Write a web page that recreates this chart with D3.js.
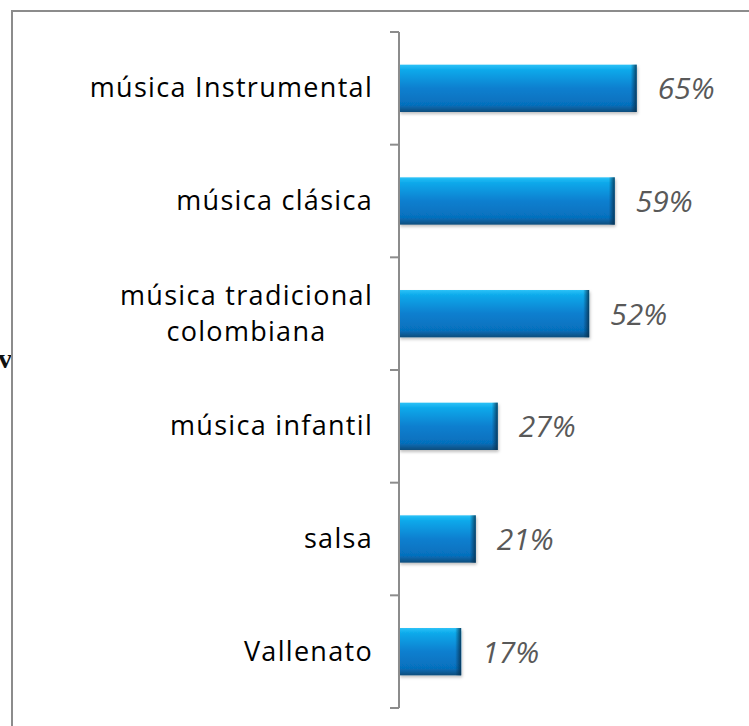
<!DOCTYPE html>
<html>
<head>
<meta charset="utf-8">
<script src="https://cdn.jsdelivr.net/npm/d3@7"></script>
<style>
  html, body { margin: 0; padding: 0; background: #fff; }
  svg { display: block; }
</style>
</head>
<body>
<svg id="chart"></svg>
<script>
// data
const categories = [
  ["música Instrumental"],
  ["música clásica"],
  ["música tradicional", "colombiana"],
  ["música infantil"],
  ["salsa"],
  ["Vallenato"]
];
const values = [0.65, 0.59, 0.52, 0.27, 0.21, 0.17];

const width = 749, height = 726;
const axisX = 399, plotTop = 32, plotBottom = 708;

const svg = d3.select("#chart")
  .attr("width", width)
  .attr("height", height);

const defs = svg.append("defs");
const grad = defs.append("linearGradient")
  .attr("id", "barGrad").attr("x1", 0).attr("y1", 0).attr("x2", 0).attr("y2", 1);
grad.append("stop").attr("offset", "0%").attr("stop-color", "#2cc2f7");
grad.append("stop").attr("offset", "12%").attr("stop-color", "#0aa8ea");
grad.append("stop").attr("offset", "50%").attr("stop-color", "#0a7fcf");
grad.append("stop").attr("offset", "85%").attr("stop-color", "#0670bd");
grad.append("stop").attr("offset", "100%").attr("stop-color", "#0b4d7c");

const edge = defs.append("linearGradient")
  .attr("id", "edgeGrad").attr("x1", 0).attr("y1", 0).attr("x2", 1).attr("y2", 0);
edge.append("stop").attr("offset", "0%").attr("stop-color", "#06304f").attr("stop-opacity", 0);
edge.append("stop").attr("offset", "100%").attr("stop-color", "#06304f").attr("stop-opacity", 0.85);

const shadow = defs.append("filter").attr("id", "shadow")
  .attr("x", "-5%").attr("y", "-10%").attr("width", "115%").attr("height", "140%");
shadow.append("feDropShadow").attr("dx", 1).attr("dy", 2).attr("stdDeviation", 1.5)
  .attr("flood-color", "#000").attr("flood-opacity", 0.25);

// scales
const y = d3.scaleBand()
  .domain(d3.range(categories.length))
  .range([plotTop, plotBottom])
  .paddingInner(0.58)
  .paddingOuter(0.29);

const yTicks = d3.scaleLinear().domain([0, categories.length]).range([plotTop, plotBottom]);

const x = d3.scaleLinear().domain([0, 0.7]).range([axisX, axisX + 256]);

// stray clipped title glyph at left edge
svg.append("text")
  .attr("x", 12).attr("y", 368)
  .attr("text-anchor", "end")
  .attr("font-family", "Liberation Serif")
  .attr("font-weight", "bold")
  .attr("font-size", 28)
  .attr("fill", "#111")
  .text("v");

// chart border (left + top)
svg.append("path")
  .attr("d", `M12,${height} V11 H${width}`)
  .attr("fill", "none")
  .attr("stroke", "#8c8c8c")
  .attr("stroke-width", 2);

// bars
const bars = svg.append("g");
bars.selectAll("rect.bar")
  .data(values)
  .join("rect")
  .attr("class", "bar")
  .attr("x", x(0))
  .attr("y", (d, i) => y(i))
  .attr("width", d => x(d) - x(0))
  .attr("height", y.bandwidth())
  .attr("fill", "url(#barGrad)")
  .attr("filter", "url(#shadow)");

bars.selectAll("rect.edge")
  .data(values)
  .join("rect")
  .attr("class", "edge")
  .attr("x", d => x(d) - 6)
  .attr("y", (d, i) => y(i))
  .attr("width", 6)
  .attr("height", y.bandwidth())
  .attr("fill", "url(#edgeGrad)");

// axis
const axis = svg.append("g");
axis.append("line")
  .attr("x1", axisX).attr("x2", axisX)
  .attr("y1", plotTop).attr("y2", plotBottom)
  .attr("stroke", "#8c8c8c").attr("stroke-width", 2);
axis.selectAll("line.tick")
  .data(d3.range(categories.length + 1))
  .join("line")
  .attr("class", "tick")
  .attr("x1", axisX - 9).attr("x2", axisX)
  .attr("y1", d => yTicks(d)).attr("y2", d => yTicks(d))
  .attr("stroke", "#8c8c8c").attr("stroke-width", 2);

// category labels
const labelRight = 373;
const lineH = 36;
categories.forEach((lines, i) => {
  const cy = y(i) + y.bandwidth() / 2;
  const g = svg.append("g");
  const t = g.append("text")
    .attr("font-family", "Open Sans")
    .attr("font-size", 27)
    .attr("letter-spacing", 1.3)
    .attr("fill", "#000");
  const spans = lines.map((l, k) => t.append("tspan")
    .attr("y", cy + 9 + (k - (lines.length - 1) / 2) * lineH)
    .text(l));
  if (lines.length === 1) {
    t.attr("text-anchor", "end");
    spans.forEach(s => s.attr("x", labelRight));
  } else {
    const w = d3.max(spans, s => s.node().getComputedTextLength());
    t.attr("text-anchor", "middle");
    spans.forEach(s => s.attr("x", labelRight - w / 2));
  }
});

// value labels
svg.append("g").selectAll("text")
  .data(values)
  .join("text")
  .attr("x", d => x(d) + 21)
  .attr("y", (d, i) => y(i) + y.bandwidth() / 2 + 11)
  .attr("font-family", "Open Sans")
  .attr("font-style", "italic")
  .attr("font-size", 30)
  .attr("fill", "#595959")
  .text(d => d3.format(".0%")(d));
</script>
</body>
</html>
